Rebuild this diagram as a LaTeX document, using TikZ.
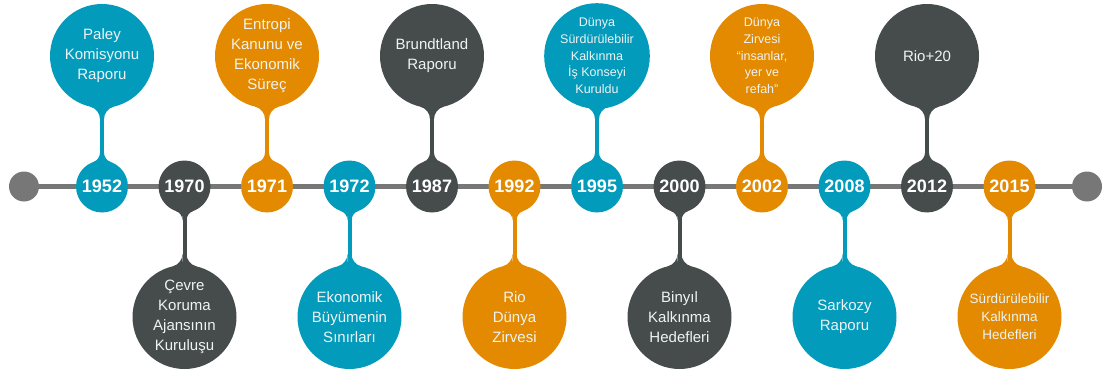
\documentclass[tikz,border=0pt]{standalone}
\usepackage{fontspec}
\setmainfont{Liberation Sans}
\usetikzlibrary{calc,backgrounds}

\definecolor{cblue}{HTML}{039BBB}
\definecolor{corange}{HTML}{E38A00}
\definecolor{cdark}{HTML}{464B4C}
\definecolor{cline}{HTML}{777777}
\definecolor{ctext}{HTML}{EEF3F4}

% concave flares where a stem (half width 2) meets a circle of radius #2
% around node #1; #3 = 1 for a stem going up, -1 for a stem going down;
% #5 = radius of the flare
\newcommand\filletpair[5]{%
  \pgfmathsetmacro\fdy{sqrt((#2+#5)*(#2+#5)-(#5+2)*(#5+2))}%
  \pgfmathsetmacro\fth{atan(\fdy/(#5+2))}%
  \fill[#4] ($(#1.center)+(2,{(#3)*\fdy})$)
     arc[start angle=180, end angle={180+(#3)*\fth}, radius=#5pt] -- (#1.center) -- cycle;
  \fill[#4] ($(#1.center)+(-2,{(#3)*\fdy})$)
     arc[start angle=0, end angle={0-(#3)*\fth}, radius=#5pt] -- (#1.center) -- cycle;
}

\tikzset{
  yearc/.style={circle, minimum size=52pt, inner sep=0pt, outer sep=0pt,
    text=white, font=\fontsize{18}{20}\selectfont\bfseries},
  bub/.style={circle, minimum size=104pt, inner sep=0pt, outer sep=0pt,
    text=ctext, align=center, font=\fontsize{15}{20}\selectfont},
  small/.style={font=\fontsize{12.5}{16.7}\selectfont},
  mid/.style={font=\fontsize{13.5}{18}\selectfont},
  endc/.style={circle, fill=cline, minimum size=30pt, inner sep=0pt, outer sep=0pt},
  stem/.style={line width=4pt},
  axis/.style={cline, line width=5pt}
}

\begin{document}
\begin{tikzpicture}[x=1pt,y=1pt]
\useasboundingbox (0,0) rectangle (1104,373);

% ends of the time axis
\node[endc] (lend) at (24,186.5) {};
\node[endc] (rend) at (1087,186.5) {};

% year markers
\node[yearc, fill=cblue]   (y1952) at (102,186.5)   {1952};
\node[yearc, fill=cdark]   (y1970) at (184.5,186.5) {1970};
\node[yearc, fill=corange] (y1971) at (267,186.5)   {1971};
\node[yearc, fill=cblue]   (y1972) at (349.5,186.5) {1972};
\node[yearc, fill=cdark]   (y1987) at (432,186.5)   {1987};
\node[yearc, fill=corange] (y1992) at (514.5,186.5) {1992};
\node[yearc, fill=cblue]   (y1995) at (597,186.5)   {1995};
\node[yearc, fill=cdark]   (y2000) at (679.5,186.5) {2000};
\node[yearc, fill=corange] (y2002) at (762,186.5)   {2002};
\node[yearc, fill=cblue]   (y2008) at (844.5,186.5) {2008};
\node[yearc, fill=cdark]   (y2012) at (927,186.5)   {2012};
\node[yearc, fill=corange] (y2015) at (1009.5,186.5){2015};

% events above the axis
\node[bub, fill=cblue]   (b1952) at (102,317)   {Paley\\Komisyonu\\Raporu};
\node[bub, fill=corange] (b1971) at (267,317)   {Entropi\\Kanunu ve\\Ekonomik\\Süreç};
\node[bub, fill=cdark]   (b1987) at (432,317)   {Brundtland\\Raporu};
\node[bub, fill=cblue, small]   (b1995) at (597,317) {Dünya\\Sürdürülebilir\\Kalkınma\\İş Konseyi\\Kuruldu};
\node[bub, fill=corange, small] (b2002) at (762,317) {Dünya\\Zirvesi\\“insanlar,\\yer ve\\refah”};
\node[bub, fill=cdark]   (b2012) at (927,317)   {Rio+20};

% events below the axis
\node[bub, fill=cdark]   (b1970) at (184.5,56)  {Çevre\\Koruma\\Ajansının\\Kuruluşu};
\node[bub, fill=cblue]   (b1972) at (349.5,56)  {Ekonomik\\Büyümenin\\Sınırları};
\node[bub, fill=corange] (b1992) at (514.5,56)  {Rio\\Dünya\\Zirvesi};
\node[bub, fill=cdark]   (b2000) at (679.5,56)  {Binyıl\\Kalkınma\\Hedefleri};
\node[bub, fill=cblue]   (b2008) at (844.5,56)  {Sarkozy\\Raporu};
\node[bub, fill=corange, mid] (b2015) at (1009.5,56) {Sürdürülebilir\\Kalkınma\\Hedefleri};

\begin{scope}[on background layer]
  \draw[axis] (lend.center) -- (rend.center);

  % stems with their flares: event bubble -> year marker
  \foreach \yr/\col/\dir in {1952/cblue/1, 1971/corange/1, 1987/cdark/1,
      1995/cblue/1, 2002/corange/1, 2012/cdark/1,
      1970/cdark/-1, 1972/cblue/-1, 1992/corange/-1,
      2000/cdark/-1, 2008/cblue/-1, 2015/corange/-1}{
    \draw[stem, \col] (b\yr.center) -- (y\yr.center);
    \filletpair{y\yr}{26}{\dir}{\col}{10}
    \filletpair{b\yr}{52}{0-\dir}{\col}{13}
  }
\end{scope}
\end{tikzpicture}
\end{document}
